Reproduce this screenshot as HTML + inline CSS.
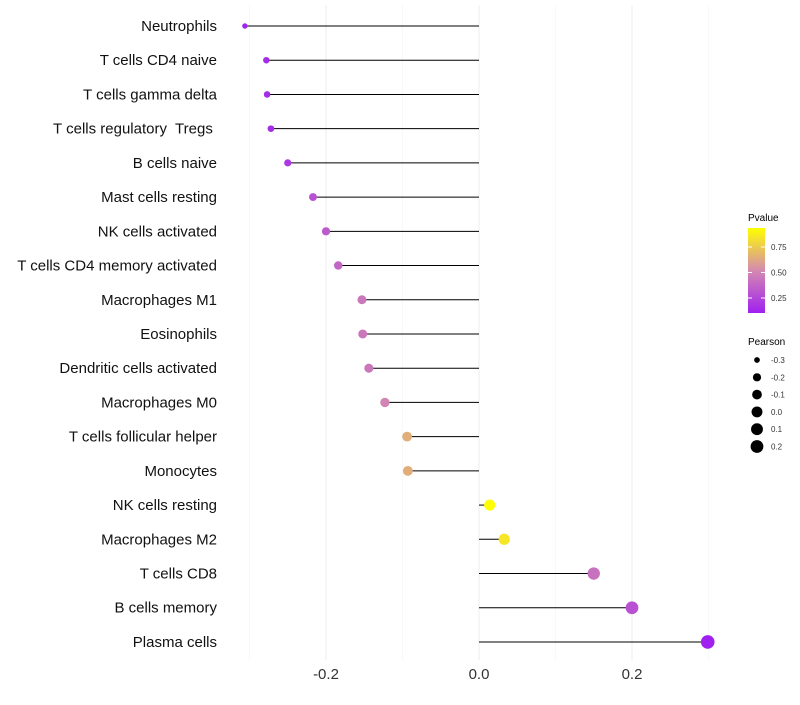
<!DOCTYPE html>
<html><head><meta charset="utf-8"><style>
body{margin:0;background:#fff;font-family:"Liberation Sans",sans-serif}
</style></head><body>
<svg id="chart" width="800" height="700" xmlns="http://www.w3.org/2000/svg">
<defs><linearGradient id="pg" x1="0" y1="1" x2="0" y2="0">
<stop offset="0" stop-color="#A020F0"/><stop offset="0.5" stop-color="#D48AB0"/><stop offset="1" stop-color="#FFFF00"/></linearGradient></defs>
<g id="grid"></g><g id="marks"></g><g id="ylabels"></g><g id="xlabels"></g><g id="legend"></g>
</svg>
<script>
const cells=["Neutrophils","T cells CD4 naive","T cells gamma delta","T cells regulatory  Tregs ","B cells naive","Mast cells resting","NK cells activated","T cells CD4 memory activated","Macrophages M1","Eosinophils","Dendritic cells activated","Macrophages M0","T cells follicular helper","Monocytes","NK cells resting","Macrophages M2","T cells CD8","B cells memory","Plasma cells"];
const pearson=[-0.306,-0.278,-0.277,-0.272,-0.250,-0.217,-0.200,-0.184,-0.153,-0.152,-0.144,-0.123,-0.094,-0.093,0.014,0.033,0.150,0.200,0.299];
const pvalue=[0.12,0.15,0.15,0.15,0.2,0.3,0.33,0.38,0.45,0.45,0.45,0.5,0.65,0.65,0.94,0.85,0.42,0.3,0.1];
const xTicks=[-0.2,0,0.2];
const xMinor=[-0.3,-0.1,0.1,0.3];
const pTicks=[0.25,0.5,0.75];
const sizeTicks=[-0.3,-0.2,-0.1,0.0,0.1,0.2];
const NS="http://www.w3.org/2000/svg";
const X=v=>479+v*765;
const Y=i=>26+i*34.22;
const R=v=>2+Math.sqrt(Math.max(0,(v+0.32)/0.62))*4.8;
const stops=[[0.10,[160,32,240]],[0.52,[212,138,176]],[0.94,[255,255,0]]];
function col(p){p=Math.max(0.1,Math.min(0.94,p));let a=stops[0],b=stops[1];if(p>stops[1][0]){a=stops[1];b=stops[2];}
const t=(p-a[0])/(b[0]-a[0]);const c=a[1].map((v,k)=>Math.round(v+(b[1][k]-v)*t));return `rgb(${c})`;}
function mk(tag,at,parent,txt){const e=document.createElementNS(NS,tag);for(const k in at)e.setAttribute(k,at[k]);if(txt!==undefined)e.textContent=txt;document.getElementById(parent).appendChild(e);return e;}
xMinor.forEach(v=>{const e=mk("line",{x1:X(v),x2:X(v),y1:5,y2:660,stroke:"#f3f3f3","stroke-width":0.6},"grid");

});
xTicks.forEach(v=>{const e=mk("line",{x1:X(v),x2:X(v),y1:5,y2:660,stroke:"#eeeeee","stroke-width":1.1},"grid");


const t=mk("text",{x:X(v),y:679,"text-anchor":"middle","font-size":15,fill:"#333"},"xlabels",v===0?"0.0":v.toFixed(1));

});
cells.forEach((c,i)=>{
const t=mk("text",{x:217,y:Y(i)+5,"text-anchor":"end","font-size":15,fill:"#111","xml:space":"preserve",style:"white-space:pre"},"ylabels",c);


const l=mk("line",{x1:X(0),x2:X(pearson[i]),y1:Y(i),y2:Y(i),stroke:"#000","stroke-width":1},"marks");


const d=mk("circle",{cx:X(pearson[i]),cy:Y(i),r:R(pearson[i]),fill:col(pvalue[i])},"marks");


});
let g;
g=mk("text",{x:748,y:221,"font-size":10,fill:"#000"},"legend","Pvalue");
g=mk("rect",{x:748,y:228,width:17,height:85,fill:"url(#pg)"},"legend");
const PY=p=>298-(p-0.25)*102;
pTicks.forEach(p=>{const a=mk("line",{x1:748,x2:752,y1:PY(p),y2:PY(p),stroke:"#fff"},"legend");
const b=mk("line",{x1:761,x2:765,y1:PY(p),y2:PY(p),stroke:"#fff"},"legend");
const t=mk("text",{x:771,y:PY(p)+3,"font-size":8,fill:"#333"},"legend",p.toFixed(2));});
g=mk("text",{x:748,y:345,"font-size":10,fill:"#000"},"legend","Pearson");
sizeTicks.forEach((s,i)=>{const y=360+i*17.3;const c=mk("circle",{cx:757,cy:y,r:R(s)},"legend");
const t=mk("text",{x:771,y:y+3,"font-size":8,fill:"#333"},"legend",s.toFixed(1));});
</script>
</body></html>
